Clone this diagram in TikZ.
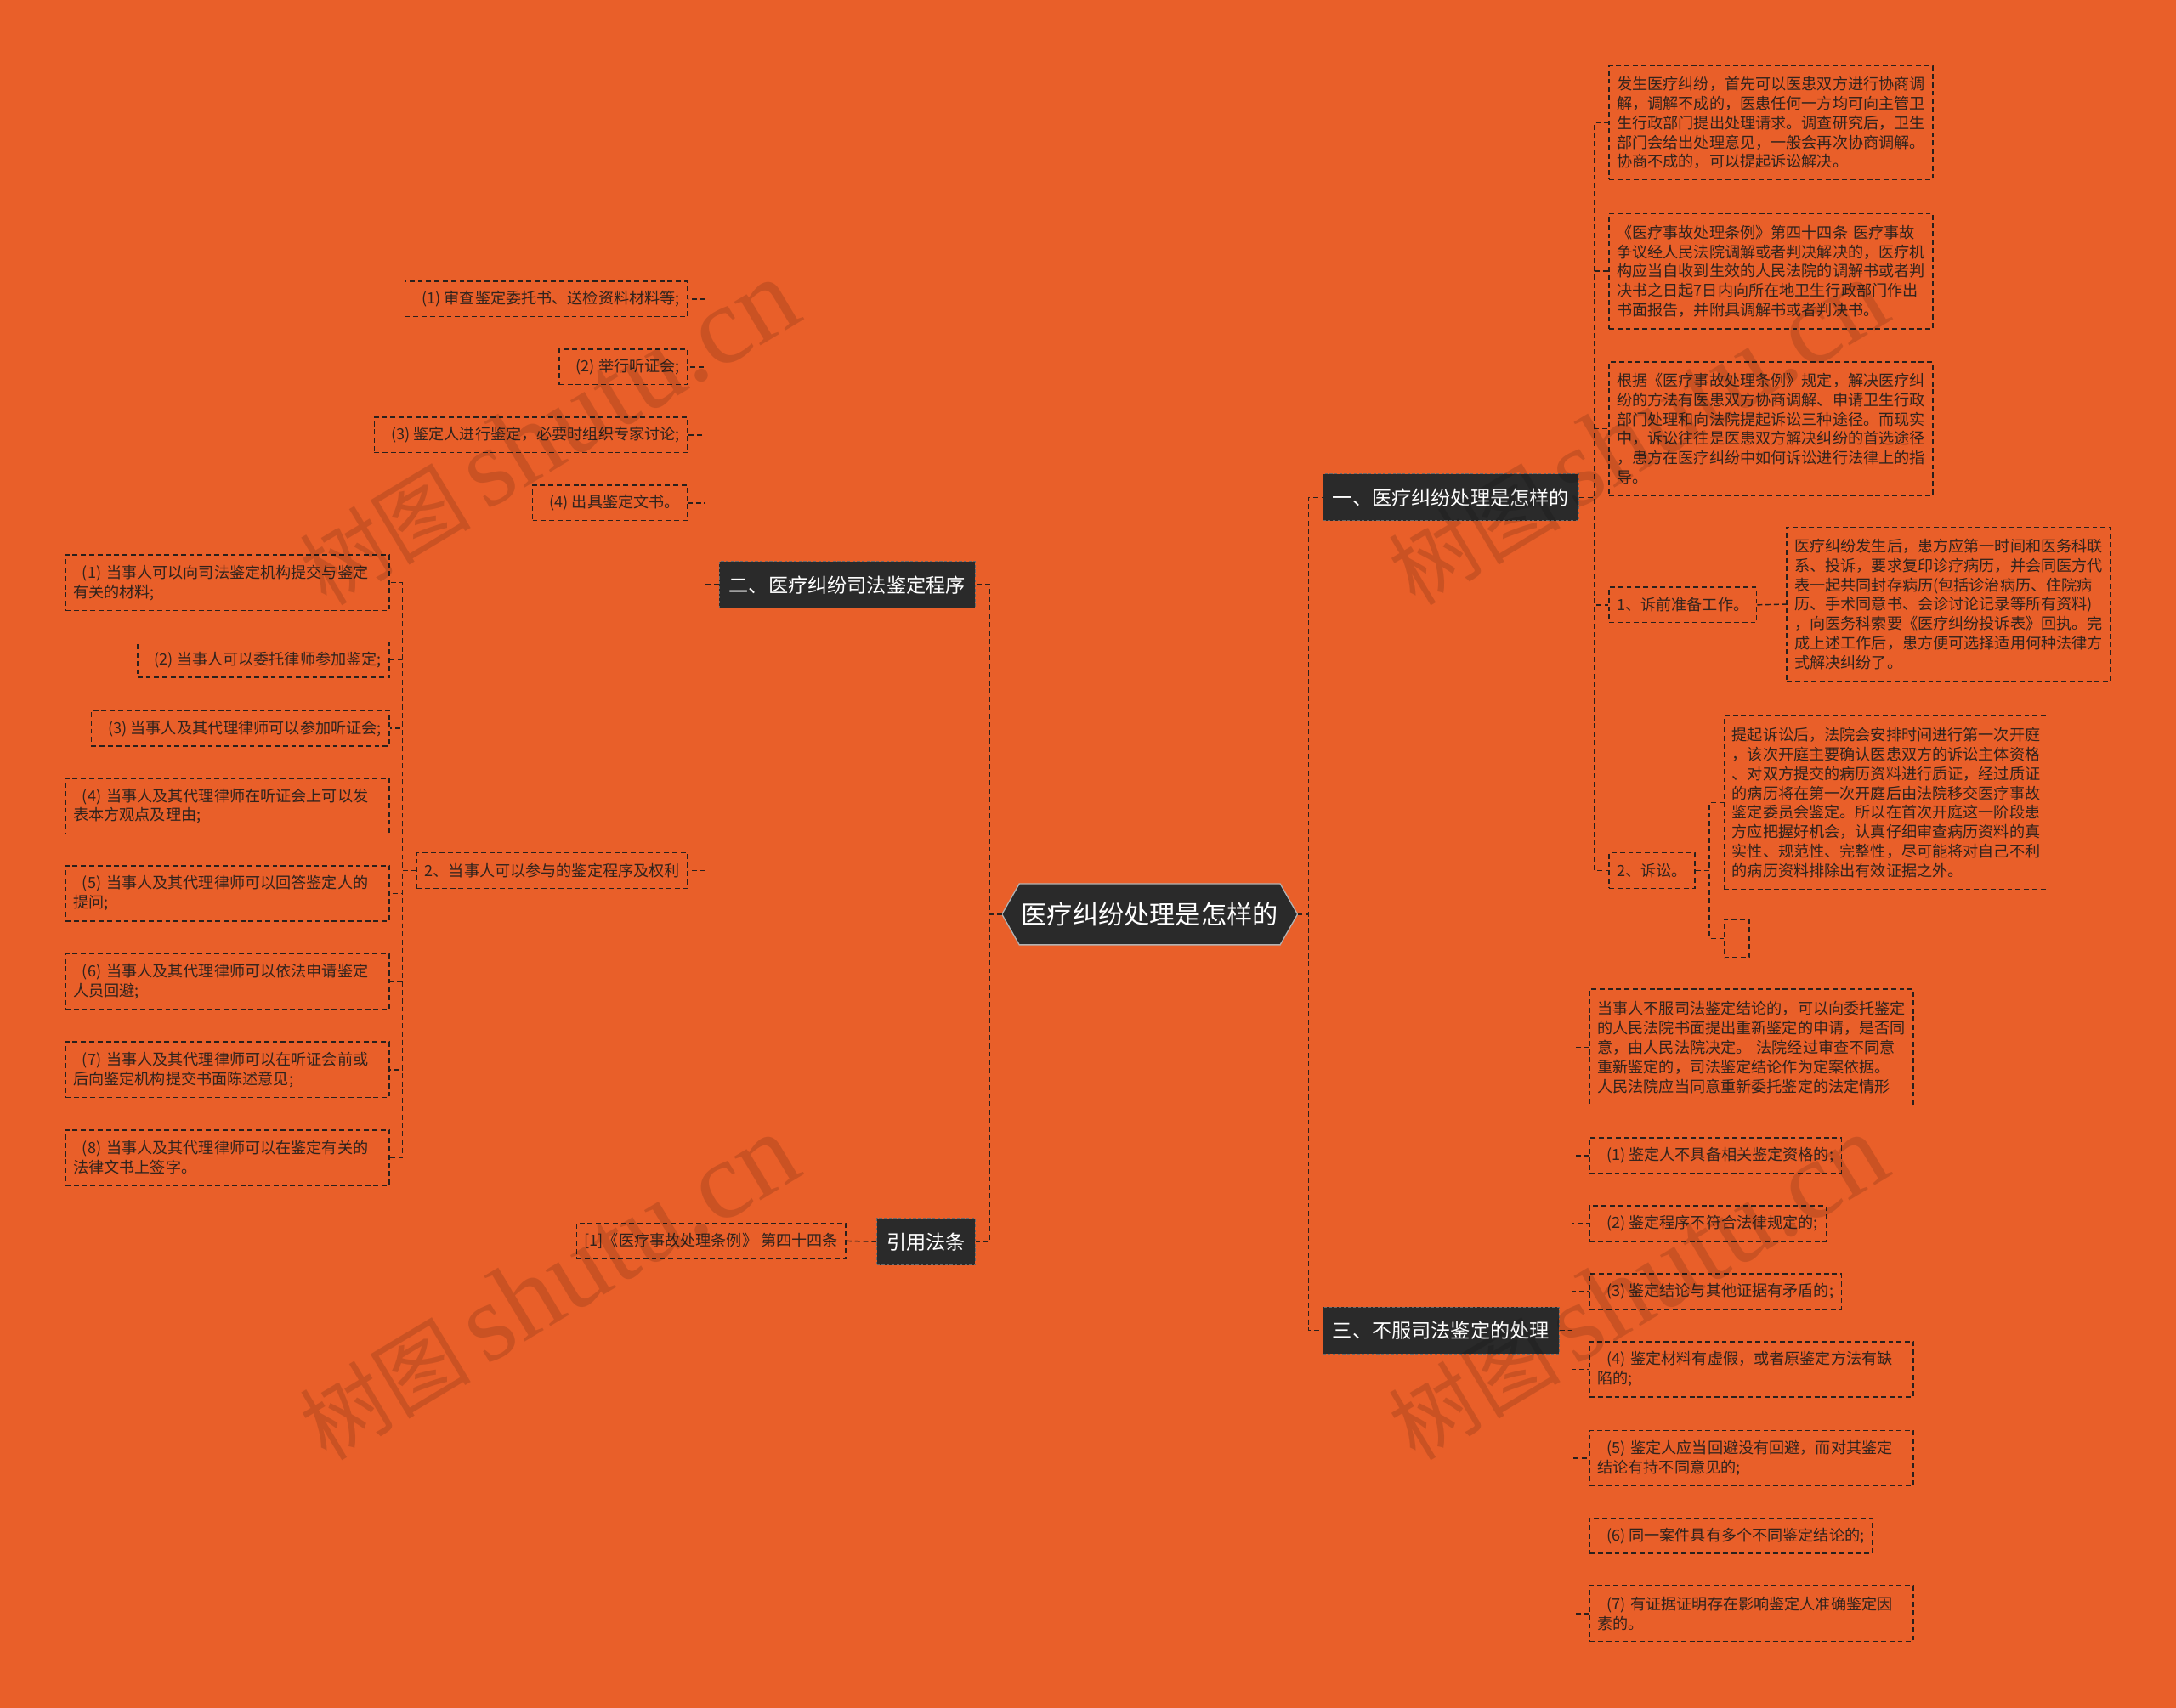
\documentclass[tikz,border=0pt]{standalone}
\usepackage{fontspec}
\setmainfont{Noto Sans CJK SC}
\newfontfamily\wmfont{Liberation Serif}
\usetikzlibrary{calc}
\definecolor{bgc}{HTML}{E95F29}
\definecolor{lc}{HTML}{2A201C}
\definecolor{tc}{HTML}{30231D}
\definecolor{bc}{HTML}{2A2A2A}
\newcommand\ii{\hspace*{6.5pt}}
\begin{document}
\begin{tikzpicture}[x=1pt,y=-1pt,
  leaf/.style={draw=lc, line width=0.9pt, dash pattern=on 3.6pt off 2.4pt, text=tc,
    font=\fontsize{11.1pt}{14pt}\selectfont, inner xsep=5.7pt, inner ysep=2pt, align=left},
  wide/.style={leaf, text width=222pt},
  one/.style={leaf, minimum height=25.5pt},
  branch/.style={fill=bc, draw=bc!70!white, line width=0.6pt, dash pattern=on 2pt off 1.5pt,
    text=white, font=\fontsize{14.2pt}{16pt}\selectfont, inner xsep=7pt, inner ysep=2pt, minimum height=33.5pt},
  conn/.style={draw=lc, line width=0.9pt, dash pattern=on 3.6pt off 2.4pt},
  wm/.style={rotate=31, text=black, text opacity=0.13, inner sep=0pt}]

\fill[bgc] (0,0) rectangle (1568,1231);
\useasboundingbox (0,0) rectangle (1568,1231);

% centre
\coordinate (c0) at (828.5,659);
\coordinate (cL) at ($(c0)+(-106.5,0)$);
\coordinate (cR) at ($(c0)+(106.5,0)$);
\filldraw[fill=bc, draw=gray!60, line width=0.8pt] (cL) -- ($(c0)+(-94,-22)$) -- ($(c0)+(94,-22)$) -- (cR) -- ($(c0)+(94,22)$) -- ($(c0)+(-94,22)$) -- cycle;
\node[text=white, font=\fontsize{18.5pt}{20pt}\selectfont, inner sep=0pt] (c) at (c0) {医疗纠纷处理是怎样的};

% branches
\node[branch, anchor=west] (b1) at (953,358.5) {一、医疗纠纷处理是怎样的};
\node[branch, anchor=east] (b2) at (703,421.5) {二、医疗纠纷司法鉴定程序};
\node[branch, anchor=east] (b3) at (703,895) {引用法条};
\node[branch, anchor=west] (b4) at (953,959) {三、不服司法鉴定的处理};

% right, branch 1
\node[wide, anchor=west, minimum height=82pt] (a1) at (1159,88.5) {发生医疗纠纷，首先可以医患双方进行协商调\\解，调解不成的，医患任何一方均可向主管卫\\生行政部门提出处理请求。调查研究后，卫生\\部门会给出处理意见，一般会再次协商调解。\\协商不成的，可以提起诉讼解决。};
\node[wide, anchor=west, minimum height=83pt] (a2) at (1159,195.5) {《医疗事故处理条例》第四十四条 医疗事故\\争议经人民法院调解或者判决解决的，医疗机\\构应当自收到生效的人民法院的调解书或者判\\决书之日起7日内向所在地卫生行政部门作出\\书面报告，并附具调解书或者判决书。};
\node[wide, anchor=west, minimum height=96pt] (a3) at (1159,309) {根据《医疗事故处理条例》规定，解决医疗纠\\纷的方法有医患双方协商调解、申请卫生行政\\部门处理和向法院提起诉讼三种途径。而现实\\中，诉讼往往是医患双方解决纠纷的首选途径\\，患方在医疗纠纷中如何诉讼进行法律上的指\\导。};
\node[one, anchor=west] (d) at (1159,436) {1、诉前准备工作。};
\node[wide, anchor=west, minimum height=111pt] (e) at (1287,435.5) {医疗纠纷发生后，患方应第一时间和医务科联\\系、投诉，要求复印诊疗病历，并会同医方代\\表一起共同封存病历(包括诊治病历、住院病\\历、手术同意书、会诊讨论记录等所有资料)\\，向医务科索要《医疗纠纷投诉表》回执。完\\成上述工作后，患方便可选择适用何种法律方\\式解决纠纷了。};
\node[one, anchor=west] (f) at (1159,627.5) {2、诉讼。};
\node[wide, anchor=west, minimum height=125pt] (g) at (1242,578.5) {提起诉讼后，法院会安排时间进行第一次开庭\\，该次开庭主要确认医患双方的诉讼主体资格\\、对双方提交的病历资料进行质证，经过质证\\的病历将在第一次开庭后由法院移交医疗事故\\鉴定委员会鉴定。所以在首次开庭这一阶段患\\方应把握好机会，认真仔细审查病历资料的真\\实性、规范性、完整性，尽可能将对自己不利\\的病历资料排除出有效证据之外。};
\node[leaf, anchor=west, minimum width=18pt, minimum height=27pt, inner sep=0pt] (h) at (1242,676.5) {};

% right, branch 3
\node[wide, anchor=west, minimum height=84pt] (i) at (1145,755) {当事人不服司法鉴定结论的，可以向委托鉴定\\的人民法院书面提出重新鉴定的申请，是否同\\意，由人民法院决定。 法院经过审查不同意\\重新鉴定的，司法鉴定结论作为定案依据。\\人民法院应当同意重新委托鉴定的法定情形};
\node[one, anchor=west] (j) at (1145,833) {\ii(1) 鉴定人不具备相关鉴定资格的;};
\node[one, anchor=west] (k) at (1145,882) {\ii(2) 鉴定程序不符合法律规定的;};
\node[one, anchor=west] (l) at (1145,931) {\ii(3) 鉴定结论与其他证据有矛盾的;};
\node[wide, anchor=west, minimum height=40pt] (m) at (1145,987) {\ii(4) 鉴定材料有虚假，或者原鉴定方法有缺\\陷的;};
\node[wide, anchor=west, minimum height=40pt] (n) at (1145,1051) {\ii(5) 鉴定人应当回避没有回避，而对其鉴定\\结论有持不同意见的;};
\node[one, anchor=west] (o) at (1145,1107) {\ii(6) 同一案件具有多个不同鉴定结论的;};
\node[wide, anchor=west, minimum height=40pt] (p) at (1145,1163) {\ii(7) 有证据证明存在影响鉴定人准确鉴定因\\素的。};

% left, branch 2
\node[one, anchor=east] (l1) at (496,215.5) {\ii(1) 审查鉴定委托书、送检资料材料等;};
\node[one, anchor=east] (l2) at (496,264.5) {\ii(2) 举行听证会;};
\node[one, anchor=east] (l3) at (496,313.5) {\ii(3) 鉴定人进行鉴定，必要时组织专家讨论;};
\node[one, anchor=east] (l4) at (496,362.5) {\ii(4) 出具鉴定文书。};
\node[one, anchor=east] (l5) at (496,627.5) {2、当事人可以参与的鉴定程序及权利};
\node[wide, anchor=east, minimum height=40pt] (ll1) at (281,420) {\ii(1) 当事人可以向司法鉴定机构提交与鉴定\\有关的材料;};
\node[one, anchor=east] (ll2) at (281,475.5) {\ii(2) 当事人可以委托律师参加鉴定;};
\node[one, anchor=east] (ll3) at (281,525) {\ii(3) 当事人及其代理律师可以参加听证会;};
\node[wide, anchor=east, minimum height=40pt] (ll4) at (281,581) {\ii(4) 当事人及其代理律师在听证会上可以发\\表本方观点及理由;};
\node[wide, anchor=east, minimum height=40pt] (ll5) at (281,644) {\ii(5) 当事人及其代理律师可以回答鉴定人的\\提问;};
\node[wide, anchor=east, minimum height=40pt] (ll6) at (281,707.5) {\ii(6) 当事人及其代理律师可以依法申请鉴定\\人员回避;};
\node[wide, anchor=east, minimum height=40pt] (ll7) at (281,771) {\ii(7) 当事人及其代理律师可以在听证会前或\\后向鉴定机构提交书面陈述意见;};
\node[wide, anchor=east, minimum height=40pt] (ll8) at (281,834.5) {\ii(8) 当事人及其代理律师可以在鉴定有关的\\法律文书上签字。};
\node[one, anchor=east] (rf) at (610,894.5) {[1]《医疗事故处理条例》 第四十四条};

% connectors
\draw[conn] (cR) -- ++(8,0) |- (b1.west);
\draw[conn] (cR) -- ++(8,0) |- (b4.west);
\draw[conn] (cL) -- ++(-9,0) |- (b2.east);
\draw[conn] (cL) -- ++(-9,0) |- (b3.east);
\foreach \t in {l1,l2,l3,l4,l5} \draw[conn] (b2.west) -- ++(-10,0) |- (\t.east);
\foreach \t in {ll1,ll2,ll3,ll4,ll5,ll6,ll7,ll8} \draw[conn] (l5.west) -- ++(-10,0) |- (\t.east);
\draw[conn] (b3.west) -- (rf.east);
\foreach \t in {a1,a2,a3,d,f} \draw[conn] (b1.east) -- ++(11,0) |- (\t.west);
\draw[conn] (d.east) -- (e.west);
\foreach \t in {g,h} \draw[conn] (f.east) -- ++(10,0) |- (\t.west);
\foreach \t in {i,j,k,l,m,n,o,p} \draw[conn] (b4.east) -- ++(9,0) |- (\t.west);

% watermarks
\foreach \wx/\wy/\wn in {395/312/w1, 395/928/w2, 1180/312/w3, 1180/928/w4}
  \node[wm] (\wn) at (\wx,\wy) {\fontsize{62pt}{62pt}\selectfont 树图\,{\wmfont\fontsize{80pt}{80pt}\selectfont shutu.cn}};
\end{tikzpicture}
\end{document}
